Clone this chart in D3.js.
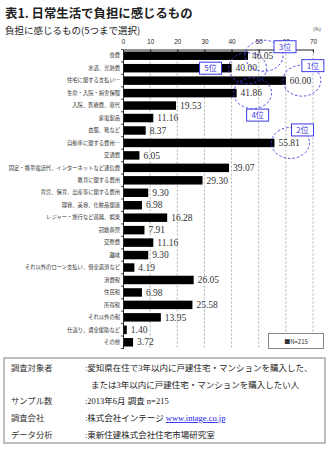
<!DOCTYPE html>
<html><head><meta charset="utf-8">
<script src="https://cdn.jsdelivr.net/npm/d3@7"></script>
<style>body{margin:0;background:#fff}svg{display:block}</style>
</head><body>
<script>
const categories = ["食費","水道、光熱費","住宅に関する支払い…","生命・入院・損害保険","入院、医療費、薬代","家電製品","衣服、靴など","自動車に関する費用…","交通費","固定・携帯電話代、インターネットなど通信費","教育に関する費用","育児、保育、出産等に関する費用","理容、美容、化粧品関連","レジャー・旅行など遊興、娯楽","冠婚葬祭","交際費","趣味","それ以外のローン支払い、借金返済など","消費税","住民税","所得税","それ以外の税","仕送り、資金援助など","その他"];
const values = [46.05,40.00,60.00,41.86,19.53,11.16,8.37,55.81,6.05,39.07,29.30,9.30,6.98,16.28,7.91,11.16,9.30,4.19,26.05,6.98,25.58,13.95,1.40,3.72];
const tickValues = [0,10,20,30,40,50,60,70];
const rankLabels = ["1位","2位","3位","4位","5位"];
const rankCats = ["住宅に関する支払い…","自動車に関する費用…","食費","生命・入院・損害保険","水道、光熱費"];
const rankBoxOffsets = [[11,-15],[12,-13],[21,-9],[5,22],[-37,0]];
const legendLabel = "■N=215";
const noteLabels = ["調査対象者","","サンプル数","調査会社","データ分析"];
const noteTexts = [":愛知県在住で3年以内に戸建住宅・マンションを購入した、","または3年以内に戸建住宅・マンションを購入したい人",":2013年6月 調査 n=215",":株式会社インテージ ",":東新住建株式会社住宅市場研究室"];
const noteLink = "www.intage.co.jp";

(function(){
const W=332,H=450;
const svg=d3.select("body").append("svg").attr("width",W).attr("height",H);
const jp="'Noto Sans CJK JP', sans-serif";
const serif="'Liberation Serif', 'Noto Sans CJK JP', serif";

svg.append("text").attr("x",5).attr("y",18).attr("font-family",jp).attr("font-weight","bold")
  .attr("font-size",12.4).attr("fill","#222").text("表1. 日常生活で負担に感じるもの");
svg.append("text").attr("x",5).attr("y",34).attr("font-family",jp)
  .attr("font-size",9.5).attr("fill","#222").text("負担に感じるもの(5つまで選択)");
svg.append("text").attr("x",313).attr("y",31).attr("font-family",jp)
  .attr("font-size",5).attr("fill","#333").text("(%)");

const x=d3.scaleLinear().domain([0,70]).range([123,313]);
const y=d3.scaleBand().domain(categories).range([49.5,348.5]).paddingInner(0.32).paddingOuter(0.16);
const step=y.step();

svg.append("g").selectAll("line").data(tickValues.slice(1)).join("line")
  .attr("x1",d=>x(d)).attr("x2",d=>x(d)).attr("y1",49.5).attr("y2",348.5)
  .attr("stroke","#999").attr("stroke-width",0.8).attr("stroke-dasharray","2,2");

const topAxis=svg.append("g").attr("transform","translate(0,49.5)")
  .call(d3.axisTop(x).tickValues(tickValues).tickSize(-3).tickPadding(6).tickFormat(d3.format("d")));
topAxis.select(".domain").attr("stroke","#222");
topAxis.selectAll(".tick line").attr("stroke","#222");
topAxis.selectAll("text").attr("font-family","'Liberation Sans', sans-serif").attr("font-size",6.3).attr("fill","#222");

svg.append("g").selectAll("rect").data(values).join("rect")
  .attr("x",x(0)).attr("y",(d,i)=>y(categories[i]))
  .attr("width",d=>x(d)-x(0)).attr("height",y.bandwidth()).attr("fill","#000");

const leftAxis=svg.append("g").attr("transform",`translate(${x(0)},0)`)
  .call(d3.axisLeft(y).tickSize(0).tickPadding(3));
leftAxis.select(".domain").attr("stroke","#222");
leftAxis.selectAll("text").attr("font-family",jp).attr("font-size",5.3).attr("fill","#333");
svg.append("g").selectAll("line").data(d3.range(categories.length+1)).join("line")
  .attr("x1",x(0)-2).attr("x2",x(0)).attr("y1",i=>49.5+i*step).attr("y2",i=>49.5+i*step)
  .attr("stroke","#222").attr("stroke-width",0.8);

svg.append("g").selectAll("text").data(values).join("text")
  .attr("x",d=>x(d)+4).attr("y",(d,i)=>y(categories[i])+y.bandwidth()/2+3.2)
  .attr("font-family",serif).attr("font-size",9.5).attr("fill","#333")
  .text(d=>d.toFixed(2));

svg.append("rect").attr("x",268.5).attr("y",333.5).attr("width",55).attr("height",15)
  .attr("fill","#fff").attr("stroke","#666").attr("stroke-width",0.8);
svg.append("text").attr("x",296).attr("y",343.5).attr("text-anchor","middle")
  .attr("font-family",jp).attr("font-size",6).attr("fill","#333").text(legendLabel);

const blue="#3b3be6";
rankCats.forEach((c,i)=>{
  const v=values[categories.indexOf(c)];
  const cx=x(v)+16, cy=y(c)+y.bandwidth()/2;
  svg.append("ellipse").attr("cx",cx).attr("cy",cy).attr("rx",19).attr("ry",15.5)
    .attr("fill","none").attr("stroke",blue).attr("stroke-width",0.9).attr("stroke-dasharray","2.5,2");
  const bx=cx+rankBoxOffsets[i][0], by=cy+rankBoxOffsets[i][1];
  svg.append("rect").attr("x",bx-11).attr("y",by-6).attr("width",22).attr("height",12)
    .attr("fill","#fff").attr("stroke",blue).attr("stroke-width",1);
  svg.append("text").attr("x",bx).attr("y",by+3).attr("text-anchor","middle")
    .attr("font-family",jp).attr("font-size",8).attr("fill",blue).text(rankLabels[i]);
});

svg.append("rect").attr("x",4).attr("y",358).attr("width",321).attr("height",85)
  .attr("fill","#fff").attr("stroke","#aaa").attr("stroke-width",1.5);
const rowY=[371,388,404,421,438];
noteLabels.forEach((l,i)=>{
  if(l) svg.append("text").attr("x",11).attr("y",rowY[i]).attr("font-family",jp)
    .attr("font-size",8.3).attr("fill","#333").text(l);
  const t=svg.append("text").attr("x",i===1?91:85).attr("y",rowY[i]).attr("font-family",serif)
    .attr("font-size",8.5).attr("fill","#222").text(noteTexts[i]);
  if(i===3){
    t.append("tspan").attr("fill","#1a1aee").attr("text-decoration","underline").text(noteLink);
  }
});
})();
</script>
</body></html>
